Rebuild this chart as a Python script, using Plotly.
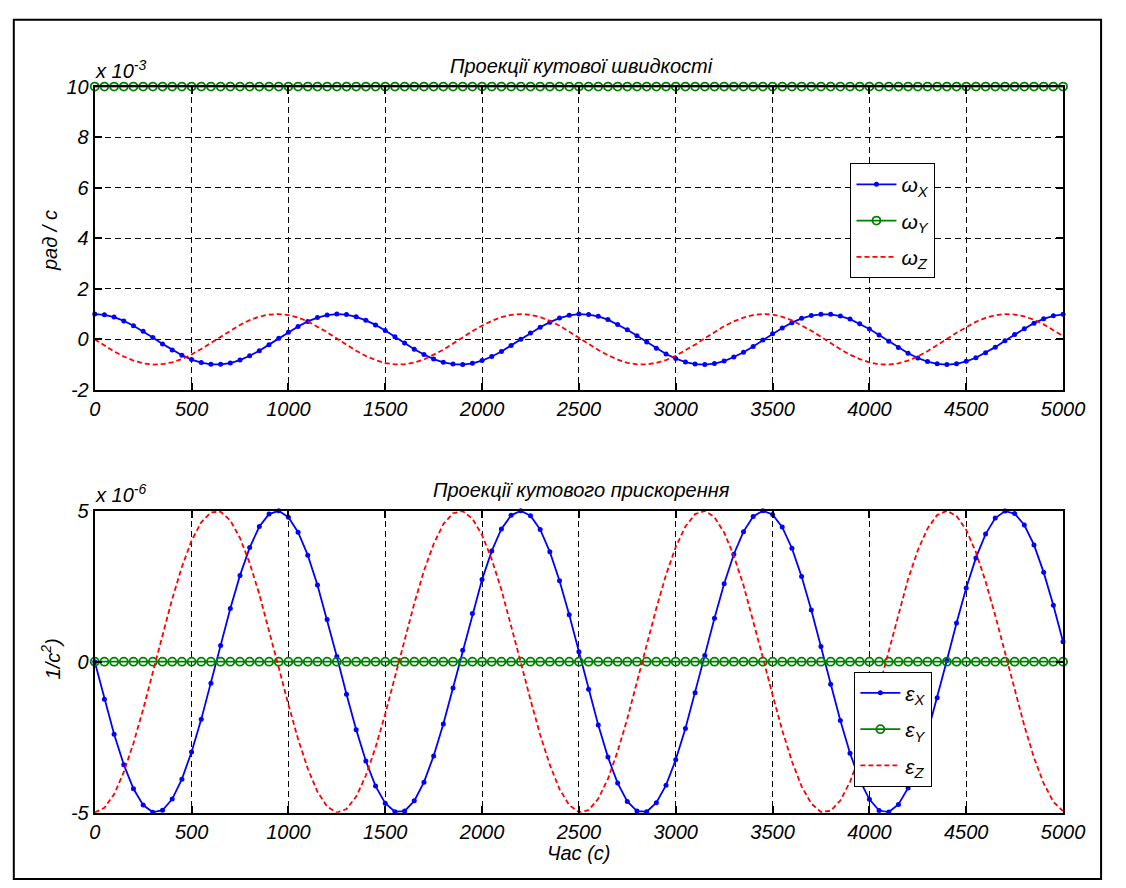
import plotly.graph_objects as go

# time grid (s)
t = list(range(0, 5001, 50))

# angular velocity projections, units of 1e-3 rad/s
wx = [1.00, 0.97, 0.88, 0.73, 0.54, 0.32, 0.07, -0.18, -0.42, -0.63, -0.80, -0.92, -0.99, -0.99, -0.94, -0.82, -0.65, -0.45, -0.21, 0.04, 0.28, 0.51, 0.71, 0.86, 0.96, 1.00,
      0.98, 0.89, 0.75, 0.57, 0.35, 0.10, -0.15, -0.39, -0.60, -0.78, -0.91, -0.98, -1.00, -0.95, -0.84, -0.68, -0.48, -0.24, 0.00, 0.25, 0.48, 0.68, 0.84, 0.95, 1.00,
      0.98, 0.91, 0.78, 0.59, 0.38, 0.14, -0.11, -0.35, -0.58, -0.76, -0.90, -0.98, -1.00, -0.96, -0.86, -0.70, -0.51, -0.28, -0.03, 0.22, 0.45, 0.66, 0.83, 0.94, 0.99,
      0.99, 0.92, 0.80, 0.62, 0.41, 0.17, -0.08, -0.32, -0.55, -0.74, -0.88, -0.97, -1.00, -0.97, -0.87, -0.73, -0.53, -0.31, -0.06, 0.19, 0.42, 0.64, 0.81, 0.93, 0.99]
wy = [10.0] * 101
wz = [0.00, -0.25, -0.48, -0.68, -0.84, -0.95, -1.00, -0.98, -0.91, -0.78, -0.60, -0.38, -0.14, 0.11, 0.35, 0.57, 0.76, 0.90, 0.98, 1.00, 0.96, 0.86, 0.71, 0.51, 0.28, 0.03,
      -0.22, -0.45, -0.66, -0.82, -0.94, -0.99, -0.99, -0.92, -0.80, -0.62, -0.41, -0.17, 0.08, 0.32, 0.54, 0.73, 0.88, 0.97, 1.00, 0.97, 0.88, 0.73, 0.54, 0.31, 0.07,
      -0.18, -0.42, -0.63, -0.80, -0.93, -0.99, -0.99, -0.93, -0.82, -0.65, -0.44, -0.21, 0.04, 0.29, 0.52, 0.71, 0.86, 0.96, 1.00, 0.98, 0.89, 0.75, 0.56, 0.34, 0.10,
      -0.15, -0.39, -0.61, -0.78, -0.91, -0.99, -1.00, -0.95, -0.84, -0.68, -0.47, -0.24, 0.01, 0.26, 0.49, 0.69, 0.85, 0.95, 1.00, 0.98, 0.91, 0.77, 0.59, 0.37, 0.13]

# angular acceleration projections, units of 1e-6 1/s^2
ex = [0.00, -1.24, -2.40, -3.41, -4.21, -4.75, -4.99, -4.92, -4.55, -3.89, -2.99, -1.91, -0.71, 0.54, 1.76, 2.86, 3.78, 4.48, 4.89, 5.00, 4.79, 4.29, 3.53, 2.54, 1.40, 0.17,
      -1.08, -2.25, -3.29, -4.12, -4.69, -4.97, -4.95, -4.61, -3.99, -3.12, -2.06, -0.87, 0.38, 1.60, 2.72, 3.67, 4.40, 4.85, 5.00, 4.84, 4.38, 3.64, 2.68, 1.56, 0.33,
      -0.91, -2.10, -3.16, -4.02, -4.63, -4.95, -4.97, -4.67, -4.09, -3.25, -2.21, -1.03, 0.21, 1.44, 2.58, 3.56, 4.31, 4.81, 5.00, 4.88, 4.46, 3.76, 2.82, 1.71, 0.50,
      -0.75, -1.95, -3.03, -3.92, -4.56, -4.93, -4.98, -4.73, -4.18, -3.38, -2.36, -1.19, 0.04, 1.28, 2.44, 3.44, 4.23, 4.76, 4.99, 4.91, 4.53, 3.87, 2.96, 1.87, 0.66]
ey = [0.0] * 101
ez = [-5.00, -4.84, -4.39, -3.66, -2.70, -1.58, -0.35, 0.89, 2.08, 3.14, 4.01, 4.62, 4.95, 4.97, 4.68, 4.10, 3.27, 2.23, 1.05, -0.19, -1.42, -2.56, -3.54, -4.31, -4.80, -5.00,
      -4.88, -4.47, -3.77, -2.84, -1.73, -0.52, 0.73, 1.93, 3.01, 3.90, 4.56, 4.92, 4.99, 4.74, 4.20, 3.39, 2.38, 1.22, -0.02, -1.26, -2.42, -3.42, -4.22, -4.75, -4.99,
      -4.92, -4.54, -3.88, -2.97, -1.89, -0.68, 0.56, 1.77, 2.88, 3.80, 4.48, 4.89, 5.00, 4.79, 4.28, 3.51, 2.53, 1.38, 0.14, -1.10, -2.27, -3.30, -4.13, -4.70, -4.98,
      -4.94, -4.60, -3.98, -3.11, -2.04, -0.85, 0.40, 1.62, 2.74, 3.69, 4.41, 4.86, 5.00, 4.83, 4.37, 3.63, 2.66, 1.53, 0.31, -0.93, -2.12, -3.18, -4.03, -4.64, -4.95]

xticks = [0, 500, 1000, 1500, 2000, 2500, 3000, 3500, 4000, 4500, 5000]
yticks_top = [-2, 0, 2, 4, 6, 8, 10]
yticks_top_text = ["-2", "0", "2", "4", "6", "8", "10"]
yticks_bot = [-5, 0, 5]
yticks_bot_text = ["-5", "0", "5"]

BLUE = "rgb(0,0,255)"
GREEN = "rgb(0,128,0)"
RED = "rgb(255,0,0)"
FONT = "Liberation Sans, Arial, sans-serif"

fig = go.Figure()

def add_set(xa, ya, a, b, c, names, legend, tag):
    fig.add_trace(go.Scatter(x=t, y=a, xaxis=xa, yaxis=ya, name=names[0], legend=legend,
                             legendgroup=tag + "a",
                             mode="lines+markers", line=dict(color=BLUE, width=1.8),
                             marker=dict(color=BLUE, size=5, symbol="circle"), cliponaxis=False))
    fig.add_trace(go.Scatter(x=t, y=b, xaxis=xa, yaxis=ya, name=names[1], legend=legend,
                             legendgroup=tag + "b",
                             mode="lines+markers", line=dict(color=GREEN, width=1.8),
                             marker=dict(color="rgba(0,0,0,0)", size=8, symbol="circle",
                                         line=dict(color=GREEN, width=1.8)), cliponaxis=False))
    fig.add_trace(go.Scatter(x=t, y=c, xaxis=xa, yaxis=ya, name=names[2], legend=legend,
                             legendgroup=tag + "c",
                             mode="lines", line=dict(color=RED, width=1.8, dash="5px,3px"),
                             cliponaxis=False))

add_set("x", "y", wx, wy, wz, ["ω<sub>X</sub>", "ω<sub>Y</sub>", "ω<sub>Z</sub>"], "legend", "w")
add_set("x2", "y2", ex, ey, ez, ["ε<sub>X</sub>", "ε<sub>Y</sub>", "ε<sub>Z</sub>"], "legend2", "e")

W, H = 1126, 888
def px(x):
    return x / W
def py(y):
    return (H - y) / H

axis_common = dict(showline=True, linewidth=2, linecolor="black", mirror="ticks",
                   ticks="inside", ticklen=7, tickwidth=1.5, tickcolor="black",
                   showgrid=True, gridcolor="black", gridwidth=1, griddash="6px,4px",
                   zeroline=False,
                   tickfont=dict(family=FONT, size=20, color="black", style="italic"))

dom_x = [px(91), px(1084)]
legend_common = dict(xanchor="left", yanchor="top", bgcolor="white", bordercolor="black", borderwidth=1,
                     font=dict(family=FONT, size=21, color="black", style="italic"),
                     tracegroupgap=6, itemwidth=40, traceorder="grouped")
fig.update_layout(
    width=W, height=H, margin=dict(l=0, r=0, t=0, b=0),
    paper_bgcolor="white", plot_bgcolor="white",
    font=dict(family=FONT, color="black"),
    xaxis=dict(domain=dom_x, range=[0, 5000], tickvals=xticks, anchor="y", **axis_common),
    yaxis=dict(domain=[py(388.5), py(77.5)], range=[-2, 10], tickvals=yticks_top,
               ticktext=yticks_top_text, anchor="x", **axis_common),
    xaxis2=dict(domain=dom_x, range=[0, 5000], tickvals=xticks, anchor="y2", **axis_common),
    yaxis2=dict(domain=[py(822), py(512.5)], range=[-5, 5], tickvals=yticks_bot,
                ticktext=yticks_bot_text, anchor="x2", **axis_common),
    legend=dict(x=px(866), y=py(156), **legend_common),
    legend2=dict(x=px(870), y=py(677.5), **legend_common),
    showlegend=True,
)

ann_font = dict(family=FONT, size=20, color="black", style="italic")
fig.add_annotation(text="Проекції кутової швидкості", x=px(590), y=py(56), xref="paper", yref="paper",
                   showarrow=False, font=ann_font, xanchor="center", yanchor="middle")
fig.add_annotation(text="Проекції кутового прискорення", x=px(590), y=py(491), xref="paper", yref="paper",
                   showarrow=False, font=ann_font, xanchor="center", yanchor="middle")
fig.add_annotation(text="x 10<sup>-3</sup>", x=px(89), y=py(75), xref="paper", yref="paper",
                   showarrow=False, font=ann_font, xanchor="left", yanchor="bottom")
fig.add_annotation(text="x 10<sup>-6</sup>", x=px(89), y=py(510), xref="paper", yref="paper",
                   showarrow=False, font=ann_font, xanchor="left", yanchor="bottom")
fig.add_annotation(text="рад / с", x=px(45), y=py(235), xref="paper", yref="paper", textangle=-90,
                   showarrow=False, font=ann_font, xanchor="center", yanchor="middle")
fig.add_annotation(text="1/c<sup>2</sup>)", x=px(46), y=py(664), xref="paper", yref="paper", textangle=-90,
                   showarrow=False, font=ann_font, xanchor="center", yanchor="middle")
fig.add_annotation(text="Час (с)", x=px(587), y=py(863), xref="paper", yref="paper",
                   showarrow=False, font=ann_font, xanchor="center", yanchor="middle")

fig.add_shape(type="rect", xref="paper", yref="paper", x0=px(8), x1=px(1123), y0=py(890), y1=py(9),
              line=dict(color="black", width=2), fillcolor="rgba(0,0,0,0)", layer="above")

fig.write_html("out.html")
